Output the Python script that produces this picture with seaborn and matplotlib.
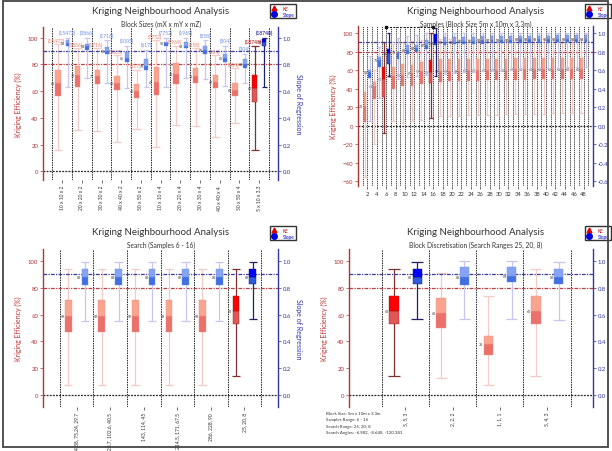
import numpy as np
import matplotlib
matplotlib.use("Agg")
import matplotlib.pyplot as plt
from matplotlib.lines import Line2D
from matplotlib.patches import Rectangle
import seaborn as sns

sns.set_theme(style="white")
plt.rcParams['font.family'] = ['Lato', 'DejaVu Sans']

# ---------------- Panel 1 : Block sizes ----------------
p1_labels = ["10 x 10 x 2", "20 x 20 x 2", "30 x 30 x 2", "40 x 40 x 2", "50 x 50 x 2",
             "10 x 10 x 4", "20 x 20 x 4", "30 x 30 x 4", "40 x 40 x 4", "50 x 50 x 4", "5 x 10 x 3.3"]
p1_counts = ["(15472)", "(3866)", "(1716)", "(1005)", "(617)", "(7752)", "(1969)", "(858)",
             "(504)", "(304)", "(18748)"]
p1_ke_lo = [16, 31, 30, 22, 32, 18, 35, 34, 26, 36, 16]
p1_ke_q1 = [56, 63, 65, 61, 55, 57, 65, 66, 62, 56, 52]
p1_ke_med = [66, 72, 71, 66, 60, 67, 73, 71, 67, 61, 62]
p1_ke_q3 = [76, 79, 76, 71, 65, 78, 81, 77, 72, 66, 72]
p1_ke_hi = [95, 92, 92, 87, 76, 98, 94, 92, 87, 77, 94]
p1_sl_lo = [0.63, 0.70, 0.66, 0.62, 0.63, 0.63, 0.70, 0.69, 0.64, 0.66, 0.63]
p1_sl_q1 = [0.94, 0.91, 0.88, 0.82, 0.76, 0.94, 0.92, 0.88, 0.82, 0.77, 0.94]
p1_sl_med = [0.96, 0.94, 0.90, 0.85, 0.79, 0.96, 0.94, 0.91, 0.85, 0.80, 0.97]
p1_sl_q3 = [0.98, 0.95, 0.93, 0.89, 0.84, 0.97, 0.97, 0.94, 0.88, 0.84, 0.99]
p1_sl_hi = [1.00, 1.00, 0.98, 0.94, 0.91, 1.00, 1.00, 0.98, 0.94, 0.88, 1.00]
p1_highlight = [10]

# ---------------- Panel 2 : Samples ----------------
p2_samples = [2, 4, 6, 8, 10, 12, 14, 16, 18, 20, 22, 24, 26, 28, 30, 32, 34, 36, 38, 40, 42, 44, 46, 48]
p2_ke_lo = [-55, -20, -8, 5, 3, 5, 6, 8, 10, 10, 11, 12, 12, 12, 12, 13, 13, 13, 13, 13, 14, 14, 14, 14]
p2_ke_q1 = [4, 29, 31, 40, 43, 43, 45, 46, 47, 48, 48, 48, 48, 49, 49, 49, 49, 49, 50, 50, 50, 50, 50, 50]
p2_ke_med = [21, 43, 50, 54, 55, 57, 59, 58, 59, 59, 59, 60, 60, 60, 60, 60, 61, 61, 61, 61, 61, 61, 61, 61]
p2_ke_q3 = [36, 47, 63, 63, 67, 65, 69, 71, 72, 72, 72, 72, 72, 72, 72, 72, 73, 73, 73, 73, 73, 73, 73, 73]
p2_ke_hi = [57, 60, 90, 88, 90, 91, 92, 100, 93, 93, 93, 93, 93, 93, 93, 93, 93, 93, 93, 93, 93, 93, 93, 93]
p2_sl_lo = [0.05, 0.30, 0.54, 0.50, 0.52, 0.54, 0.55, 0.54, 0.56, 0.57, 0.58, 0.58, 0.59, 0.59, 0.60, 0.60,
            0.61, 0.61, 0.62, 0.62, 0.62, 0.63, 0.63, 0.63]
p2_sl_q1 = [0.51, 0.63, 0.67, 0.72, 0.77, 0.80, 0.83, 0.87, 0.87, 0.88, 0.88, 0.88, 0.88, 0.89, 0.89, 0.89,
            0.89, 0.89, 0.89, 0.89, 0.90, 0.90, 0.90, 0.90]
p2_sl_med = [0.58, 0.71, 0.78, 0.79, 0.82, 0.84, 0.87, 0.89, 0.90, 0.90, 0.91, 0.91, 0.92, 0.92, 0.92, 0.92,
             0.93, 0.93, 0.93, 0.93, 0.93, 0.93, 0.94, 0.94]
p2_sl_q3 = [0.60, 0.74, 0.83, 0.80, 0.87, 0.87, 0.92, 0.99, 0.96, 0.96, 0.96, 0.96, 0.97, 0.97, 0.97, 0.97,
            0.97, 0.97, 0.97, 0.97, 0.98, 0.98, 0.98, 0.98]
p2_sl_hi = [0.75, 0.85, 1.00, 0.95, 0.97, 0.98, 1.00, 1.05, 1.00, 1.00, 1.00, 1.00, 1.00, 1.00, 1.00, 1.00,
            1.00, 1.00, 1.00, 1.00, 1.00, 1.00, 1.00, 1.00]
p2_highlight = [2, 7]
p2_range = [6, 16]

# ---------------- Panel 3 : Search ----------------
p3_labels = ["94.38, 75.24, 29.7", "128.7, 102.6, 40.5", "143, 114, 45", "214.5, 171, 67.5",
             "286, 228, 90", "25, 20, 8"]
p3_ke_lo = [8, 8, 8, 8, 8, 14]
p3_ke_q1 = [47, 47, 47, 47, 47, 53]
p3_ke_med = [59, 59, 59, 59, 59, 63]
p3_ke_q3 = [71, 71, 71, 71, 71, 74]
p3_ke_hi = [94, 94, 94, 94, 94, 94]
p3_sl_lo = [0.55, 0.55, 0.55, 0.55, 0.55, 0.57]
p3_sl_q1 = [0.82, 0.82, 0.82, 0.82, 0.82, 0.83]
p3_sl_med = [0.88, 0.88, 0.88, 0.88, 0.88, 0.88]
p3_sl_q3 = [0.94, 0.94, 0.94, 0.94, 0.94, 0.94]
p3_sl_hi = [0.99, 0.99, 0.99, 0.99, 0.99, 0.99]
p3_highlight = [5]

# ---------------- Panel 4 : Block discretisation ----------------
p4_labels = ["5, 5, 3", "2, 2, 2", "1, 1, 1", "5, 4, 3"]
p4_ke_lo = [14, 13, 8, 14]
p4_ke_q1 = [53, 50, 30, 53]
p4_ke_med = [63, 61, 38, 63]
p4_ke_q3 = [74, 72, 44, 74]
p4_ke_hi = [94, 91, 74, 94]
p4_sl_lo = [0.57, 0.57, 0.57, 0.56]
p4_sl_q1 = [0.83, 0.82, 0.84, 0.83]
p4_sl_med = [0.88, 0.88, 0.89, 0.88]
p4_sl_q3 = [0.94, 0.95, 0.95, 0.94]
p4_sl_hi = [0.99, 1.00, 1.00, 0.99]
p4_highlight = [0]
p4_info = ["Block Size: 5m x 10m x 3.3m", "Samples Range: 6 - 16", "Search Range: 25, 20, 8",
           "Search Angles: -6.982, -8.648, -120.381"]

TITLE = "Kriging Neighbourhood Analysis"

RED = dict(up='#f9a48f', low='#ec706a', wh='#f2cac6', edge='#e8958a', txt='#e8806a')
RED_H = dict(up='#ff0000', low='#e25656', wh='#7d3030', edge='#8a2020', txt='#c00000')
BLUE = dict(up='#86a4f2', low='#3f6fe0', wh='#c6c6ee', edge='#6f8ee0', txt='#6f8fe8')
BLUE_H = dict(up='#0000ff', low='#2f5be0', wh='#20206a', edge='#101060', txt='#000080')

W, H = 612, 452
fig = plt.figure(figsize=(W / 100, H / 100), dpi=100)


def px_rect(l, t, r, b):
    return [l / W, 1 - b / H, (r - l) / W, (b - t) / H]


def draw_boxes(ax, xs, lo, q1, med, q3, hi, width, cap, hl, normal, high, scale):
    for i, x in enumerate(xs):
        c = high if i in hl else normal
        z = 4 if i in hl else 3
        ax.vlines(x, lo[i], hi[i], color=c['wh'], lw=0.9, zorder=z)
        ax.hlines([lo[i], hi[i]], x - cap / 2, x + cap / 2, color=c['wh'], lw=0.9, zorder=z)
        ax.bar(x, med[i] - q1[i], width, bottom=q1[i], color=c['low'], edgecolor=c['edge'],
               lw=0.3, zorder=z + 0.5)
        ax.bar(x, q3[i] - med[i], width, bottom=med[i], color=c['up'], edgecolor=c['edge'],
               lw=0.3, zorder=z + 0.5)
        ax.text(x - width / 2 - 0.02 * cap, med[i], f"{int(round(med[i] * scale))}", fontsize=2.6,
                color='#444444', ha='right', va='center', zorder=6)


def setup(rect, xlim, ylim, xs, labels, rot, title, subtitle, tx, ty, right_label=True):
    ax = fig.add_axes(px_rect(*rect))
    ax2 = ax.twinx()
    ax.set_xlim(*xlim)
    ax.set_ylim(*ylim)
    ax2.set_ylim(ylim[0] / 100, ylim[1] / 100)
    for a in (ax, ax2):
        a.set_facecolor('none')
        a.spines['top'].set_visible(False)
        a.spines['bottom'].set_visible(False)
    ax.spines['right'].set_visible(False)
    ax2.spines['left'].set_visible(False)
    ax.spines['left'].set_color('#b03535')
    ax.spines['left'].set_linewidth(1.0)
    ax2.spines['right'].set_color('#3535a5')
    ax2.spines['right'].set_linewidth(1.0)
    ax.set_xticks(xs)
    ax.set_xticklabels(labels, rotation=rot, fontsize=3.6 if rot else 4.2, color='#333333')
    ax.tick_params(axis='x', length=2, width=0.5, pad=1.5, bottom=True, color='#333333')
    ax.tick_params(axis='y', colors='#b03535', labelsize=4.3, length=2, width=0.5, pad=1.5, left=True)
    ax2.tick_params(axis='y', colors='#3535a5', labelsize=4.3, length=2, width=0.5, pad=1.5, right=True)
    ax2.yaxis.set_major_formatter(matplotlib.ticker.FormatStrFormatter('%.1f'))
    ax.set_ylabel("Kriging Efficiency (%)", color='#c03030', fontsize=5, labelpad=4)
    if right_label:
        ax2.set_ylabel("Slope of Regression", color='#3030b0', fontsize=5, rotation=270, labelpad=8)
    ax.axhline(0, color='#222222', lw=0.9, ls=(0, (1.5, 1)), zorder=2)
    ax.axhline(80, color='#b84040', lw=0.9, ls=(0, (3, 1, 1, 1)), zorder=2)
    ax2.axhline(0.9, color='#3a3a9a', lw=0.9, ls=(0, (3, 1, 1, 1)), zorder=2)
    fig.text(tx / W, 1 - ty / H, title, fontsize=7, color='#333333', ha='center', va='center')
    fig.text(tx / W, 1 - (ty + 12) / H, subtitle, fontsize=4.8, color='#333333', ha='center', va='center')
    return ax, ax2


def add_legend(l, t):
    handles = [Line2D([], [], marker='^', color='#e00000', ls='none', markersize=3.5),
               Line2D([], [], marker='o', color='#0000e0', ls='none', markersize=4)]
    fig.legend(handles, ["KE", "Slope"], loc='upper left', bbox_to_anchor=(l / W, 1 - t / H),
               fontsize=3.4, frameon=True, fancybox=False, edgecolor='#333333', borderpad=0.35,
               labelspacing=0.2, handletextpad=1.2, handlelength=1.2, borderaxespad=0,
               labelcolor=['#c00000', '#0000c0'], framealpha=1)


# ---------- Panel 1 ----------
n1 = len(p1_labels)
x1 = np.arange(n1)
ax, ax2 = setup((43, 28, 278, 181), (-0.975, 10.96), (-6.5, 108), x1, p1_labels, 90,
                TITLE, "Block Sizes (mX x mY x mZ)", 161, 12)
for s in np.arange(-0.5, n1, 1.0):
    ax.axvline(s, color='#222222', lw=0.7, ls=(0, (1.5, 1)), zorder=1)
draw_boxes(ax, x1 - 0.22, p1_ke_lo, p1_ke_q1, p1_ke_med, p1_ke_q3, p1_ke_hi, 0.27, 0.42,
           p1_highlight, RED, RED_H, 1)
draw_boxes(ax2, x1 + 0.27, p1_sl_lo, p1_sl_q1, p1_sl_med, p1_sl_q3, p1_sl_hi, 0.2, 0.28,
           p1_highlight, BLUE, BLUE_H, 100)
for i in range(n1):
    hl = i in p1_highlight
    ax.text(x1[i] - 0.28, p1_ke_hi[i] + 1, p1_counts[i], fontsize=3.6, ha='center', va='bottom',
            color=(RED_H if hl else RED)['txt'], zorder=7)
    ax2.text(x1[i] + 0.27, p1_sl_hi[i] + 0.02, p1_counts[i], fontsize=3.6, ha='center', va='bottom',
             color=(BLUE_H if hl else BLUE)['txt'], zorder=7)
add_legend(270, 5)

# ---------- Panel 2 ----------
x2 = np.array(p2_samples, dtype=float)
ax, ax2 = setup((358, 27, 593, 187), (0, 50), (-65, 107.5), x2, [str(s) for s in p2_samples], 0,
                TITLE, "Samples (Block Size 5m x 10m x 3.3m)", 476, 12, right_label=False)
ax.set_yticks(np.arange(-60, 101, 20))
ax2.set_yticks(np.arange(-0.6, 1.01, 0.2))
for s in np.arange(1, 50, 1):
    ax.axvline(s, color='#222222', lw=0.6, ls=(0, (1.5, 1)), zorder=1)
draw_boxes(ax, x2 - 0.5, p2_ke_lo, p2_ke_q1, p2_ke_med, p2_ke_q3, p2_ke_hi, 0.6, 0.8,
           p2_highlight, RED, RED_H, 1)
draw_boxes(ax2, x2 + 0.5, p2_sl_lo, p2_sl_q1, p2_sl_med, p2_sl_q3, p2_sl_hi, 0.6, 0.8,
           p2_highlight, BLUE, BLUE_H, 100)
ax.plot(p2_range, [106, 106], color='#111111', lw=0.7, ls=(0, (2, 1.5)), marker='s', markersize=2,
        zorder=8, clip_on=False)
add_legend(585, 5)

# ---------- Panel 3 ----------
n3 = len(p3_labels)
x3 = np.arange(n3)
ax, ax2 = setup((43, 250, 278, 408), (-1, 6), (-8.7, 108.7), x3, p3_labels, 90,
                TITLE, "Search (Samples 6 - 16)", 161, 233)
for s in np.arange(-0.5, n3, 1.0):
    ax.axvline(s, color='#222222', lw=0.7, ls=(0, (1.5, 1)), zorder=1)
draw_boxes(ax, x3 - 0.25, p3_ke_lo, p3_ke_q1, p3_ke_med, p3_ke_q3, p3_ke_hi, 0.2, 0.25,
           p3_highlight, RED, RED_H, 1)
draw_boxes(ax2, x3 + 0.25, p3_sl_lo, p3_sl_q1, p3_sl_med, p3_sl_q3, p3_sl_hi, 0.2, 0.25,
           p3_highlight, BLUE, BLUE_H, 100)
add_legend(270, 227)

# ---------- Panel 4 ----------
n4 = len(p4_labels)
x4 = np.arange(n4)
ax, ax2 = setup((349, 250, 593, 408), (-1.19, 3.97), (-8.7, 108.7), x4, p4_labels, 90,
                TITLE, "Block Discretisation (Search Ranges 25, 20, 8)", 476, 233, right_label=False)
for s in np.arange(-0.5, n4, 1.0):
    ax.axvline(s, color='#222222', lw=0.7, ls=(0, (1.5, 1)), zorder=1)
draw_boxes(ax, x4 - 0.24, p4_ke_lo, p4_ke_q1, p4_ke_med, p4_ke_q3, p4_ke_hi, 0.2, 0.24,
           p4_highlight, RED, RED_H, 1)
draw_boxes(ax2, x4 + 0.25, p4_sl_lo, p4_sl_q1, p4_sl_med, p4_sl_q3, p4_sl_hi, 0.19, 0.24,
           p4_highlight, BLUE, BLUE_H, 100)
for k, line in enumerate(p4_info):
    fig.text(326 / W, 1 - (414 + 6.3 * k) / H, line, fontsize=3.2, color='#333333', ha='left', va='center')
add_legend(585, 227)

# screenshot frame
fig.patches.append(Rectangle((2.5 / W, 1 - 447.5 / H), 605 / W, 446 / H, transform=fig.transFigure,
                             fill=False, edgecolor='#444444', lw=1.3, zorder=10))

fig.savefig("out.png", dpi=100)
